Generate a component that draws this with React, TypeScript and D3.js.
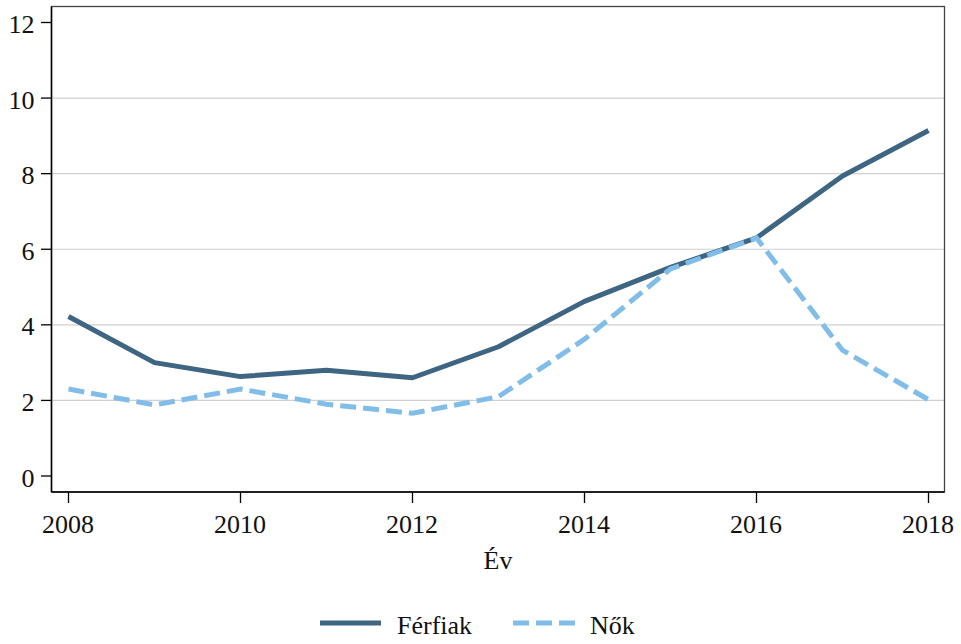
import React from "react";
import * as d3 from "d3";

const years = [2008, 2009, 2010, 2011, 2012, 2013, 2014, 2015, 2016, 2017, 2018];
const ferfiak = [4.22, 3.0, 2.63, 2.8, 2.6, 3.42, 4.62, 5.52, 6.3, 7.94, 9.14];
const nok = [2.3, 1.88, 2.3, 1.9, 1.66, 2.1, 3.62, 5.48, 6.3, 3.33, 2.02];
const yTicks = [0, 2, 4, 6, 8, 10, 12];
const xTicks = [2008, 2010, 2012, 2014, 2016, 2018];
const gridTicks = [2, 4, 6, 8, 10];

const W = 961, H = 644;
const frame = { left: 51.5, right: 944.5, top: 6.5, bottom: 492 };
const FONT = "Liberation Serif";
const FS = 26;
const C1 = "#3e6581";
const C2 = "#80bde8";

export default function App() {
  const x = d3.scaleLinear().domain([2008, 2018]).range([68.5, 928.5]);
  const y = d3.scaleLinear().domain([0, 12]).range([476, 22.5]);
  const line = d3.line<number>().x((_, i) => x(years[i])).y((d) => y(d));

  return (
    <svg width={W} height={H} style={{ position: "absolute", left: 0, top: 0, background: "#fff" }}>
      <rect x={0} y={0} width={W} height={H} fill="#fff" />
      {gridTicks.map((t) => (
        <line key={t} x1={frame.left} x2={frame.right} y1={y(t)} y2={y(t)} stroke="#d0d0d0" strokeWidth={1.2} />
      ))}
      <rect x={frame.left} y={frame.top} width={frame.right - frame.left} height={frame.bottom - frame.top}
        fill="none" stroke="#444" strokeWidth={1.3} />
      <line x1={frame.left} x2={frame.left} y1={frame.top} y2={frame.bottom} stroke="#000" strokeWidth={1.5} />
      <line x1={frame.left} x2={frame.right} y1={frame.bottom} y2={frame.bottom} stroke="#000" strokeWidth={1.5} />
      {yTicks.map((t) => (
        <g key={t}>
          <line x1={41} x2={frame.left} y1={y(t)} y2={y(t)} stroke="#000" strokeWidth={1.3} />
          <text x={34.5} y={y(t) + 10.5} textAnchor="end" style={{ fontFamily: FONT }} fontSize={FS} fill="#111">{t}</text>
        </g>
      ))}
      {xTicks.map((t) => (
        <g key={t}>
          <line x1={x(t)} x2={x(t)} y1={frame.bottom} y2={503} stroke="#000" strokeWidth={1.3} />
          <text x={x(t) - 0.5} y={533} textAnchor="middle" style={{ fontFamily: FONT }} fontSize={FS} fill="#111">{t}</text>
        </g>
      ))}
      <text x={(frame.left + frame.right) / 2} y={569} textAnchor="middle" style={{ fontFamily: FONT }} fontSize={FS} fill="#111">Év</text>
      <path d={line(ferfiak) || ""} fill="none" stroke={C1} strokeWidth={5} strokeLinejoin="round" />
      <path d={line(nok) || ""} fill="none" stroke={C2} strokeWidth={5} strokeDasharray="16 7" />
      <line x1={320} x2={381} y1={623} y2={623} stroke={C1} strokeWidth={5} />
      <text x={397} y={634} style={{ fontFamily: FONT }} fontSize={FS} fill="#111">Férfiak</text>
      <line x1={513} x2={576} y1={623} y2={623} stroke={C2} strokeWidth={5} strokeDasharray="16 7" />
      <text x={590} y={634} style={{ fontFamily: FONT }} fontSize={FS} fill="#111">Nők</text>
    </svg>
  );
}
